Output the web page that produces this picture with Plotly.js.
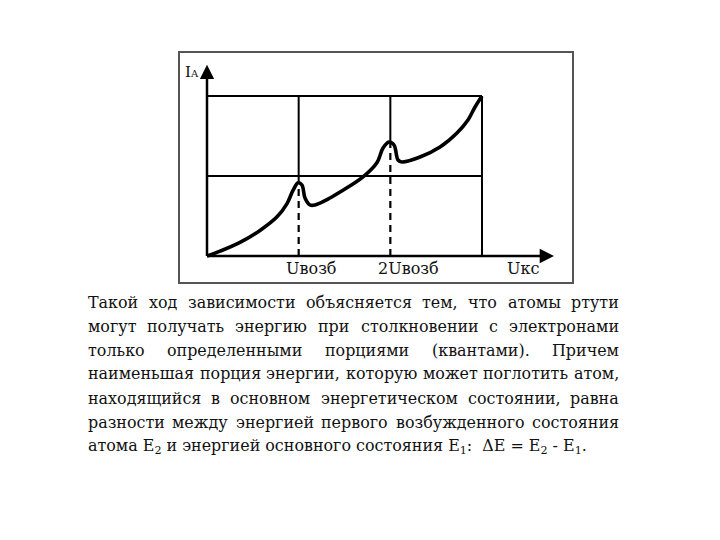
<!DOCTYPE html>
<html>
<head>
<meta charset="utf-8">
<script src="https://cdn.plot.ly/plotly-3.0.1.min.js"></script>
<style>html,body{margin:0;padding:0;background:#fff;}#chart{width:720px;height:540px;}</style>
</head>
<body>
<div id="chart"></div>
<script>
// ---------- data (in axis units: Uвозб = 1 on x, one grid step = 1 on y) ----------
const curveX = [0, 0.142, 0.36, 0.578, 0.764, 0.873, 0.938, 0.995, 1.036, 1.069, 1.124, 1.178, 1.342, 1.451, 1.702, 1.855, 1.92, 1.985, 2.04, 2.084, 2.127, 2.324, 2.542, 2.727, 2.847, 2.924, 3.0];
const curveY = [0, 0.06, 0.17, 0.32, 0.49, 0.655, 0.82, 0.915, 0.8875, 0.725, 0.6375, 0.6375, 0.725, 0.8, 0.99, 1.17, 1.35, 1.425, 1.3875, 1.2, 1.175, 1.2375, 1.3625, 1.5375, 1.7, 1.8625, 2.0];
const peakX = [1, 2];
const peakY = [0.915, 1.425];
const gridX = [1, 2, 3];
const gridY = [1, 2];
const xTickLabels = ["Uвозб", "2Uвозб", "Uкс"];
const xTickLabelPos = [1.13, 2.2, 3.45];
const yAxisLabel = "I<span style='font-size:10px'>A</span>";
const paragraphLines = [
  "Такой ход зависимости объясняется тем, что атомы ртути",
  "могут получать энергию при столкновении с электронами",
  "только определенными порциями (квантами). Причем",
  "наименьшая порция энергии, которую может поглотить атом,",
  "находящийся в основном энергетическом состоянии, равна",
  "разности между энергией первого возбужденного состояния"
];
const lastLine = "атома E<sub>2</sub> и энергией основного состояния E<sub>1</sub>:  ΔE = E<sub>2</sub> - E<sub>1</sub>.";

// ---------- layout constants (pixels) ----------
const W = 720, H = 540;
const OX = 207, OY = 256, UX = 91.67, UY = 80;
const xMax = 3.785, yMax = 2.39;
const FONT = "DejaVu Serif";
const TEXT_L = 87, TEXT_R = 618, LINE0 = 307, LINE_STEP = 24;

const px = v => v / W;
const py = v => 1 - v / H;

// fit the paragraph font size to the text block width (serif font available here is wide)
const ctx = document.createElement('canvas').getContext('2d');
ctx.font = '100px "' + FONT + '"';
const natural = ctx.measureText(paragraphLines[3]).width;
const FS = Math.min(18, 100 * (TEXT_R - TEXT_L) / natural * 0.995);
ctx.font = FS + 'px "' + FONT + '"';

const traces = [];
peakX.forEach((xv, i) => {
  traces.push({x: [xv, xv], y: [0, peakY[i]], mode: 'lines', line: {color: '#000', width: 2.2, dash: '7px,5px'}, hoverinfo: 'skip'});
});
traces.push({x: curveX, y: curveY, mode: 'lines', line: {color: '#000', width: 3.6, shape: 'spline', smoothing: 1.0}, hoverinfo: 'skip'});

const shapes = [];
shapes.push({type: 'rect', xref: 'paper', yref: 'paper', x0: px(179), x1: px(573), y0: py(283), y1: py(52), line: {color: '#555', width: 2}});
gridY.forEach(g => shapes.push({type: 'line', xref: 'x', yref: 'y', x0: 0, x1: gridX[gridX.length - 1], y0: g, y1: g, line: {color: '#000', width: 2}}));
gridX.forEach((g, i) => {
  const yStart = i < peakY.length ? peakY[i] : 0;
  shapes.push({type: 'line', xref: 'x', yref: 'y', x0: g, x1: g, y0: yStart, y1: gridY[gridY.length - 1], line: {color: '#000', width: 2}});
});
shapes.push({type: 'line', xref: 'x', yref: 'y', x0: 0, x1: xMax - 0.05, y0: 0, y1: 0, line: {color: '#000', width: 2.5}});
shapes.push({type: 'line', xref: 'x', yref: 'y', x0: 0, x1: 0, y0: 0, y1: yMax - 0.06, line: {color: '#000', width: 2.5}});

const annotations = [];
annotations.push({x: xMax, y: 0, ax: xMax - 0.2, ay: 0, axref: 'x', ayref: 'y', xref: 'x', yref: 'y', text: '', showarrow: true, arrowhead: 2, arrowsize: 1.3, arrowwidth: 2.2, arrowcolor: '#000'});
annotations.push({x: 0, y: yMax, ax: 0, ay: yMax - 0.2, axref: 'x', ayref: 'y', xref: 'x', yref: 'y', text: '', showarrow: true, arrowhead: 2, arrowsize: 1.3, arrowwidth: 2.2, arrowcolor: '#000'});
xTickLabels.forEach((t, i) => annotations.push({x: xTickLabelPos[i], y: -0.15, xref: 'x', yref: 'y', text: t, showarrow: false, xanchor: 'center', yanchor: 'middle', font: {family: FONT, size: 16, color: '#111'}}));
annotations.push({x: -0.165, y: 2.3, xref: 'x', yref: 'y', text: yAxisLabel, showarrow: false, xanchor: 'center', yanchor: 'middle', font: {family: FONT, size: 15, color: '#111'}});

paragraphLines.forEach((line, li) => {
  const words = line.split(' ');
  const widths = words.map(w => ctx.measureText(w).width);
  const total = widths.reduce((a, b) => a + b, 0);
  const gap = (TEXT_R - TEXT_L - total) / (words.length - 1);
  let cx = TEXT_L;
  const yc = LINE0 + li * LINE_STEP - 5;
  words.forEach((w, wi) => {
    annotations.push({x: px(cx), y: py(yc), xref: 'paper', yref: 'paper', text: w, showarrow: false, xanchor: 'left', yanchor: 'middle', borderpad: 0, font: {family: FONT, size: FS, color: '#111'}});
    cx += widths[wi] + gap;
  });
});
annotations.push({x: px(TEXT_L), y: py(LINE0 + 6 * LINE_STEP - 5), xref: 'paper', yref: 'paper', text: lastLine, showarrow: false, xanchor: 'left', yanchor: 'middle', borderpad: 0, font: {family: FONT, size: FS, color: '#111'}});

const layout = {
  width: W, height: H,
  margin: {l: 0, r: 0, t: 0, b: 0},
  paper_bgcolor: '#fff', plot_bgcolor: '#fff',
  showlegend: false,
  font: {family: FONT},
  xaxis: {range: [-OX / UX, (W - OX) / UX], visible: false, fixedrange: true},
  yaxis: {range: [(OY - H) / UY, OY / UY], visible: false, fixedrange: true},
  shapes: shapes,
  annotations: annotations
};
Plotly.newPlot('chart', traces, layout, {staticPlot: true, displayModeBar: false});
</script>
</body>
</html>
